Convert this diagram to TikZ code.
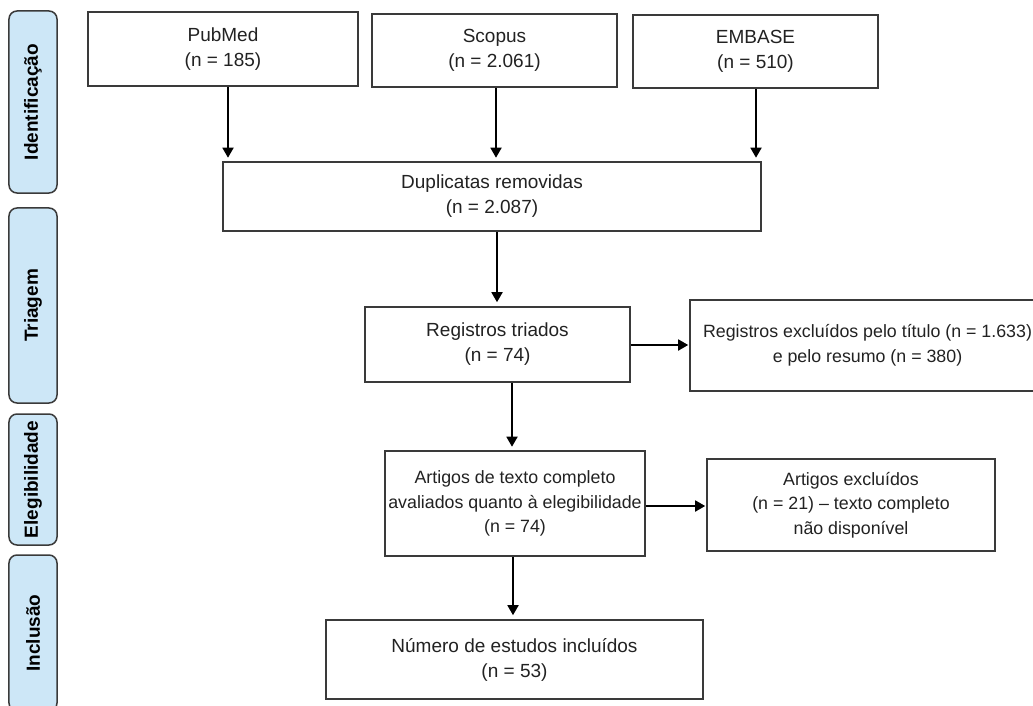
\documentclass[tikz,border=0pt]{standalone}
\usepackage{fontspec}
\setmainfont{Liberation Sans}
\usetikzlibrary{arrows.meta}
\definecolor{phasefill}{HTML}{CDE7F7}
\definecolor{boxline}{HTML}{3A3A3A}
\definecolor{txt}{HTML}{222222}
\tikzset{
  flowbox/.style={draw=boxline, line width=1.6bp, fill=white, inner sep=0pt,
    align=center, text=txt, font=\fontsize{19bp}{25bp}\selectfont},
  smalltext/.style={font=\fontsize{17.8bp}{24.5bp}\selectfont},
  phase/.style={draw=boxline, line width=1.5bp, fill=phasefill, rounded corners=8bp,
    inner sep=0pt, rotate=90, minimum height=48bp, text=black,
    font=\fontsize{19bp}{22bp}\selectfont\bfseries},
  arr/.style={draw=black, line width=1.8bp, -{Triangle[length=10bp,width=11bp]}}
}
\begin{document}
\begin{tikzpicture}[x=1bp,y=-1bp]
\useasboundingbox (0,0) rectangle (1033,706);
% phase labels
\node[phase, minimum width=182bp] (ph1) at (33,102) {Identificação};
\node[phase, minimum width=195bp] (ph2) at (33,305.5) {Triagem};
\node[phase, minimum width=131bp] (ph3) at (33,479.5) {Elegibilidade};
\node[phase, minimum width=156bp] (ph4) at (33,633) {Inclusão};
% boxes
\node[flowbox, minimum width=270bp, minimum height=74bp] (pubmed) at (223,49) {PubMed\\(n = 185)};
\node[flowbox, minimum width=245bp, minimum height=73bp] (scopus) at (494.5,50.5) {Scopus\\(n = 2.061)};
\node[flowbox, minimum width=245bp, minimum height=73bp] (embase) at (755.5,51.5) {EMBASE\\(n = 510)};
\node[flowbox, minimum width=538bp, minimum height=69bp] (dup) at (492,196.5) {Duplicatas removidas\\(n = 2.087)};
\node[flowbox, minimum width=265bp, minimum height=75bp] (triados) at (497.5,344.5) {Registros triados\\(n = 74)};
\node[flowbox, smalltext, minimum width=355bp, minimum height=91bp] (excl1) at (867.5,345.5) {Registros excluídos pelo título (n = 1.633)\\e pelo resumo (n = 380)};
\node[flowbox, smalltext, minimum width=260bp, minimum height=105bp] (artigos) at (515,503.5) {Artigos de texto completo\\avaliados quanto à elegibilidade\\(n = 74)};
\node[flowbox, smalltext, minimum width=288bp, minimum height=92bp] (excl2) at (851,505) {Artigos excluídos\\(n = 21) -- texto completo\\não disponível};
\node[flowbox, minimum width=377bp, minimum height=79bp] (numero) at (514.5,659.5) {Número de estudos incluídos\\(n = 53)};
% connectors
\draw[arr, shorten >=3.5bp] ([xshift=5bp]pubmed.south) -- ([xshift=5bp]pubmed.south |- dup.north);
\draw[arr, shorten >=3.5bp] ([xshift=1.5bp]scopus.south) -- ([xshift=1.5bp]scopus.south |- dup.north);
\draw[arr, shorten >=3.5bp] ([xshift=0.5bp]embase.south) -- ([xshift=0.5bp]embase.south |- dup.north);
\draw[arr, shorten >=4bp] ([xshift=-0.5bp]triados.north |- dup.south) -- ([xshift=-0.5bp]triados.north);
\draw[arr, shorten >=1bp] ([yshift=-0.5bp]triados.east) -- ([yshift=-0.5bp]triados.east -| excl1.west);
\draw[arr, shorten >=3.5bp] ([xshift=-3bp]artigos.north |- triados.south) -- ([xshift=-3bp]artigos.north);
\draw[arr, shorten >=1bp] ([yshift=-2.5bp]artigos.east) -- ([yshift=-2.5bp]artigos.east -| excl2.west);
\draw[arr, shorten >=4bp] ([xshift=-2bp]artigos.south) -- ([xshift=-2bp]artigos.south |- numero.north);
\end{tikzpicture}
\end{document}
